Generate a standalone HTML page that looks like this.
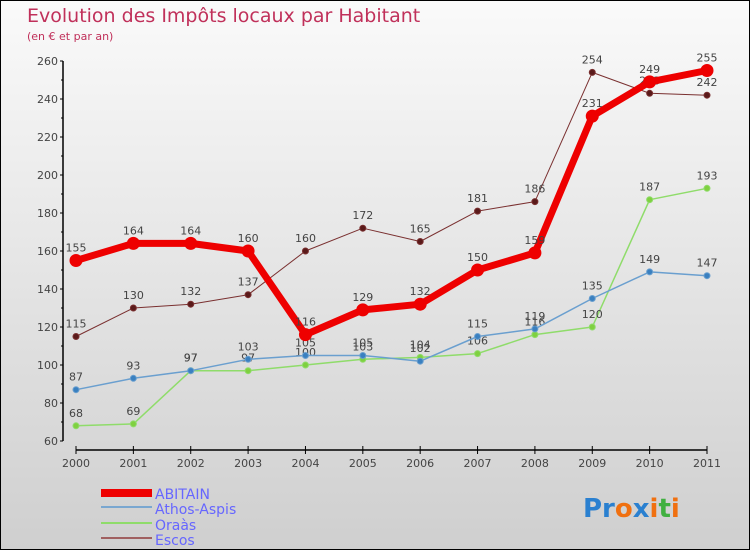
<!DOCTYPE html>
<html><head><meta charset="utf-8"><style>
body{margin:0}
#c{width:748px;height:548px;border:1px solid #000;background:linear-gradient(#fafafa,#cfcfcf);position:relative;font-family:"DejaVu Sans","Liberation Sans",sans-serif}
</style></head><body>
<div id="c">
<svg id="s" width="748" height="548" style="position:absolute;left:0;top:0">
<text x="26" y="21" font-size="19" fill="#c0305a">Evolution des Impôts locaux par Habitant</text>
<text x="26" y="39" font-size="11" fill="#c0305a">(en € et par an)</text>
<g id="axes"></g><g id="series"></g>
<g>
<rect x="100" y="488" width="51" height="8" fill="#e00"/>
<text x="154" y="498" font-size="14" fill="#6666ff">ABITAIN</text>
<line x1="100" y1="506" x2="151" y2="506" stroke="#7aa7d0" stroke-width="2"/>
<text x="154" y="513" font-size="14" fill="#6666ff">Athos-Aspis</text>
<line x1="100" y1="522" x2="151" y2="522" stroke="#8fdc6a" stroke-width="2"/>
<text x="154" y="529" font-size="14" fill="#6666ff">Oraàs</text>
<line x1="100" y1="537" x2="151" y2="537" stroke="#a06060" stroke-width="2"/>
<text x="154" y="544" font-size="14" fill="#6666ff">Escos</text>
</g>
<text x="582" y="516" font-size="26" font-weight="bold"><tspan fill="#2a80d0">Pr</tspan><tspan fill="#f07010">o</tspan><tspan fill="#2a80d0">x</tspan><tspan fill="#f07010">i</tspan><tspan fill="#40b040">t</tspan><tspan fill="#f07010">i</tspan></text>
</svg></div>
<script>
const years=["2000","2001","2002","2003","2004","2005","2006","2007","2008","2009","2010","2011"];
const yTicks=[60,80,100,120,140,160,180,200,220,240,260];
const abitain=[155,164,164,160,116,129,132,150,159,231,249,255];
const athos=[87,93,97,103,105,105,102,115,119,135,149,147];
const oraas=[68,69,97,97,100,103,104,106,116,120,187,193];
const escos=[115,130,132,137,160,172,165,181,186,254,243,242];
const NS="http://www.w3.org/2000/svg";
const X=i=>75+i*(631/11), Y=v=>440-(v-60)*1.9;
function mk(t,a,p){const e=document.createElementNS(NS,t);for(const k in a)e.setAttribute(k,a[k]);p.appendChild(e);return e;}
const ax=document.getElementById('axes'), sg=document.getElementById('series');
let l=mk('line',{x1:62,y1:Y(260),x2:62,y2:Y(60),stroke:'#000','stroke-width':1.5},ax);


yTicks.forEach(v=>{
 mk('line',{x1:59,y1:Y(v),x2:62,y2:Y(v),stroke:'#000'},ax);
 if(v<260)mk('line',{x1:60,y1:Y(v+10),x2:62,y2:Y(v+10),stroke:'#000'},ax);
 const t=mk('text',{x:57,y:Y(v)+4,'font-size':11,fill:'#444','text-anchor':'end'},ax);t.textContent=v;
 
 
});
l=mk('line',{x1:75,y1:449,x2:706,y2:449,stroke:'#000','stroke-width':1.5},ax);


years.forEach((y,i)=>{
 mk('line',{x1:X(i),y1:445,x2:X(i),y2:453,stroke:'#000'},ax);
 const t=mk('text',{x:X(i),y:466,'font-size':11,fill:'#444','text-anchor':'middle'},ax);t.textContent=y;
 
 
});
function series(name,d,col,dot,w,r){
 const g=mk('g',{},sg);
 
 
 const pl=mk('polyline',{points:d.map((v,i)=>X(i)+','+Y(v)).join(' '),fill:'none',stroke:col,'stroke-width':w,'stroke-linejoin':'round'},g);
 
 
 d.forEach((v,i)=>{
  const c=mk('circle',{cx:X(i),cy:Y(v),r:r,fill:dot,stroke:col,'stroke-width':1},g);
  
  
  const t=mk('text',{x:X(i),y:Y(v)-9,'font-size':11,fill:'#444','text-anchor':'middle'},g);t.textContent=v;
  
  
 });
}
series('escos',escos,'#7a3030','#5a1a1a',1,3);
series('oraas',oraas,'#8fdc6a','#7fd040',1.5,3);
series('athos-aspis',athos,'#6a9fcf','#3a80c0',1.5,3);
series('abitain',abitain,'#ee0000','#ee0000',7,6);
</script>
</body></html>
